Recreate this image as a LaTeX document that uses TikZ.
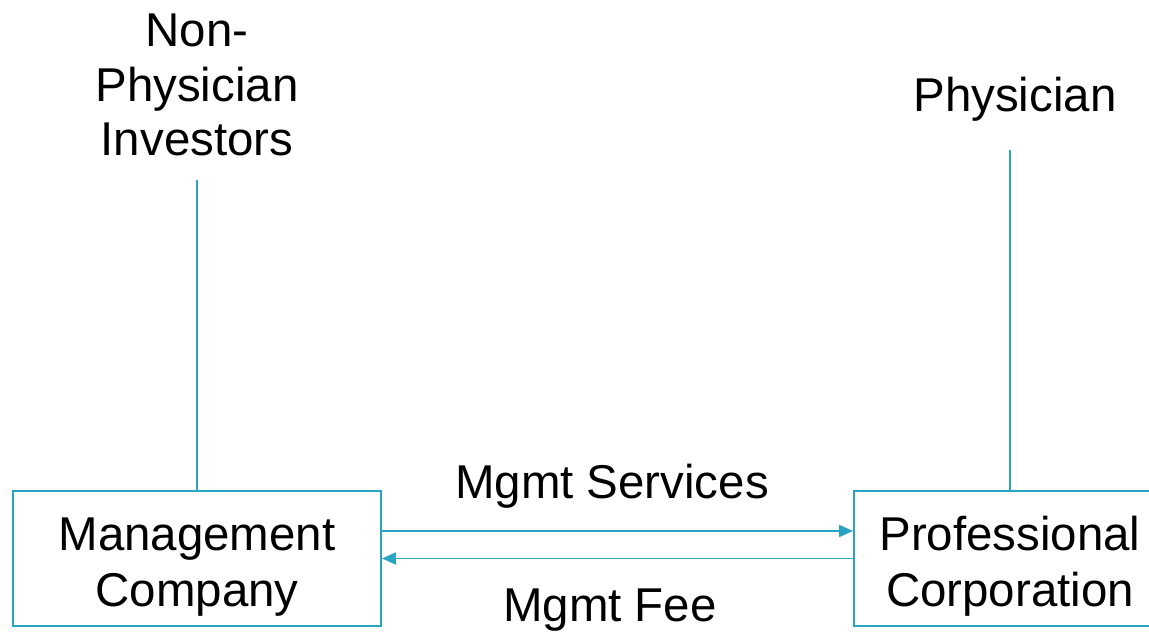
\documentclass[tikz,border=0pt]{standalone}
\usepackage{fontspec}
\setmainfont{Liberation Sans}
\usetikzlibrary{arrows.meta}
\definecolor{linkblue}{RGB}{43,164,196}
\newcommand{\tallstrut}{\rule{0pt}{1.0cm}}

\begin{document}
\begin{tikzpicture}[
  entity/.style={draw=linkblue,line width=1.1pt,minimum width=7.36cm,minimum height=2.7cm,
    align=center,font=\fontsize{27}{32}\selectfont},
  party/.style={align=center,font=\fontsize{27}{31}\selectfont},
  link/.style={draw=linkblue,line width=1.1pt},
  flow/.style={link,-{Triangle[length=0.28cm,width=0.24cm]}}]
  \useasboundingbox (0,0) rectangle (22.98,12.64);
  % Management Company
  \node[entity] (mgmt) at (3.94,1.47) {\tallstrut Management\\Company};
  \node[party] (investors) at (3.94,10.94) {Non-\\Physician\\Investors};
  \coordinate (invtop) at (3.94,9.04);
  \draw[link] (mgmt.north) -- (invtop);
  % Professional Corporation
  \node[entity,minimum width=6.24cm] (prof) at (20.2,1.47) {\tallstrut Professional\\Corporation};
  \node[party] (physician) at (20.3,10.66) {Physician};
  \coordinate (phystop) at (20.2,9.64);
  \draw[link] (prof.north) -- (phystop);
  % services and fee
  \draw[flow] ([yshift=0.55cm]mgmt.east) -- ([yshift=0.55cm]prof.west);
  \draw[flow] (prof.west) -- (mgmt.east);
  \node[party] (services) at (12.24,2.92) {Mgmt Services};
  \node[party] (fee) at (12.2,0.44) {Mgmt Fee};
\end{tikzpicture}
\end{document}
